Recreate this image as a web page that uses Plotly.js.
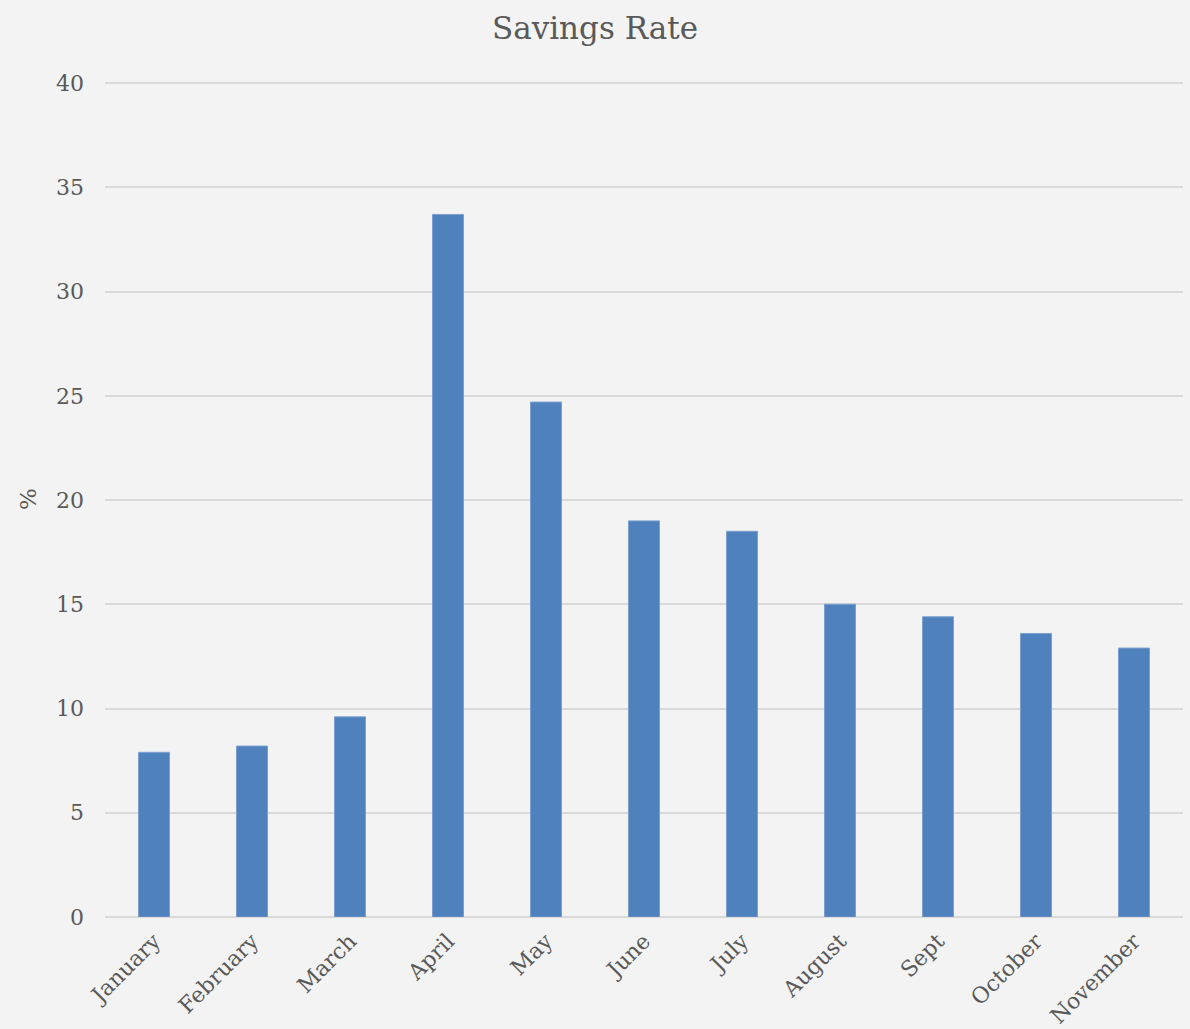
<!DOCTYPE html>
<html>
<head>
<meta charset="utf-8">
<script src="https://cdn.plot.ly/plotly-3.0.1.min.js"></script>
<style>html,body{margin:0;padding:0;background:#f3f3f3;}#chart{width:1190px;height:1029px;}</style>
</head>
<body>
<div id="chart"></div>
<script>
const months = ["January","February","March","April","May","June","July","August","Sept","October","November"];
const savingsRate = [7.9, 8.2, 9.6, 33.7, 24.7, 19.0, 18.5, 15.0, 14.4, 13.6, 12.9];
const yTicks = [0,5,10,15,20,25,30,35,40];

const font = "'DejaVu Serif', serif";

Plotly.newPlot('chart', [{
  type: 'bar',
  x: months,
  y: savingsRate,
  marker: {color: '#4f81bd', line: {color: '#7c9fd0', width: 1}},
  hoverinfo: 'x+y'
}], {
  width: 1190, height: 1029,
  paper_bgcolor: '#f3f3f3',
  plot_bgcolor: 'rgba(0,0,0,0)',
  margin: {l: 105, r: 7, t: 81, b: 112},
  bargap: 0.684,
  showlegend: false,
  title: {text: 'Savings Rate', x: 0.5, xanchor: 'center', y: 0.973, yanchor: 'middle',
          font: {family: font, size: 31, color: '#595959'}},
  xaxis: {
    type: 'category',
    tickangle: -45,
    tickfont: {family: font, size: 22, color: '#595959'},
    showgrid: false, zeroline: false, showline: false, ticks: '', ticklabelstandoff: 6
  },
  yaxis: {
    range: [0, 40.1],
    tickvals: yTicks,
    ticktext: yTicks.map(String),
    tickfont: {family: font, size: 22, color: '#595959'},
    gridcolor: '#d9d9d9', gridwidth: 2,
    zeroline: true, zerolinecolor: '#d9d9d9', zerolinewidth: 2,
    showline: false, ticks: '', ticklabelstandoff: 20,
    title: {text: '%', font: {family: font, size: 23, color: '#595959'}, standoff: 12}
  }
}, {displayModeBar: false});
</script>
</body>
</html>
